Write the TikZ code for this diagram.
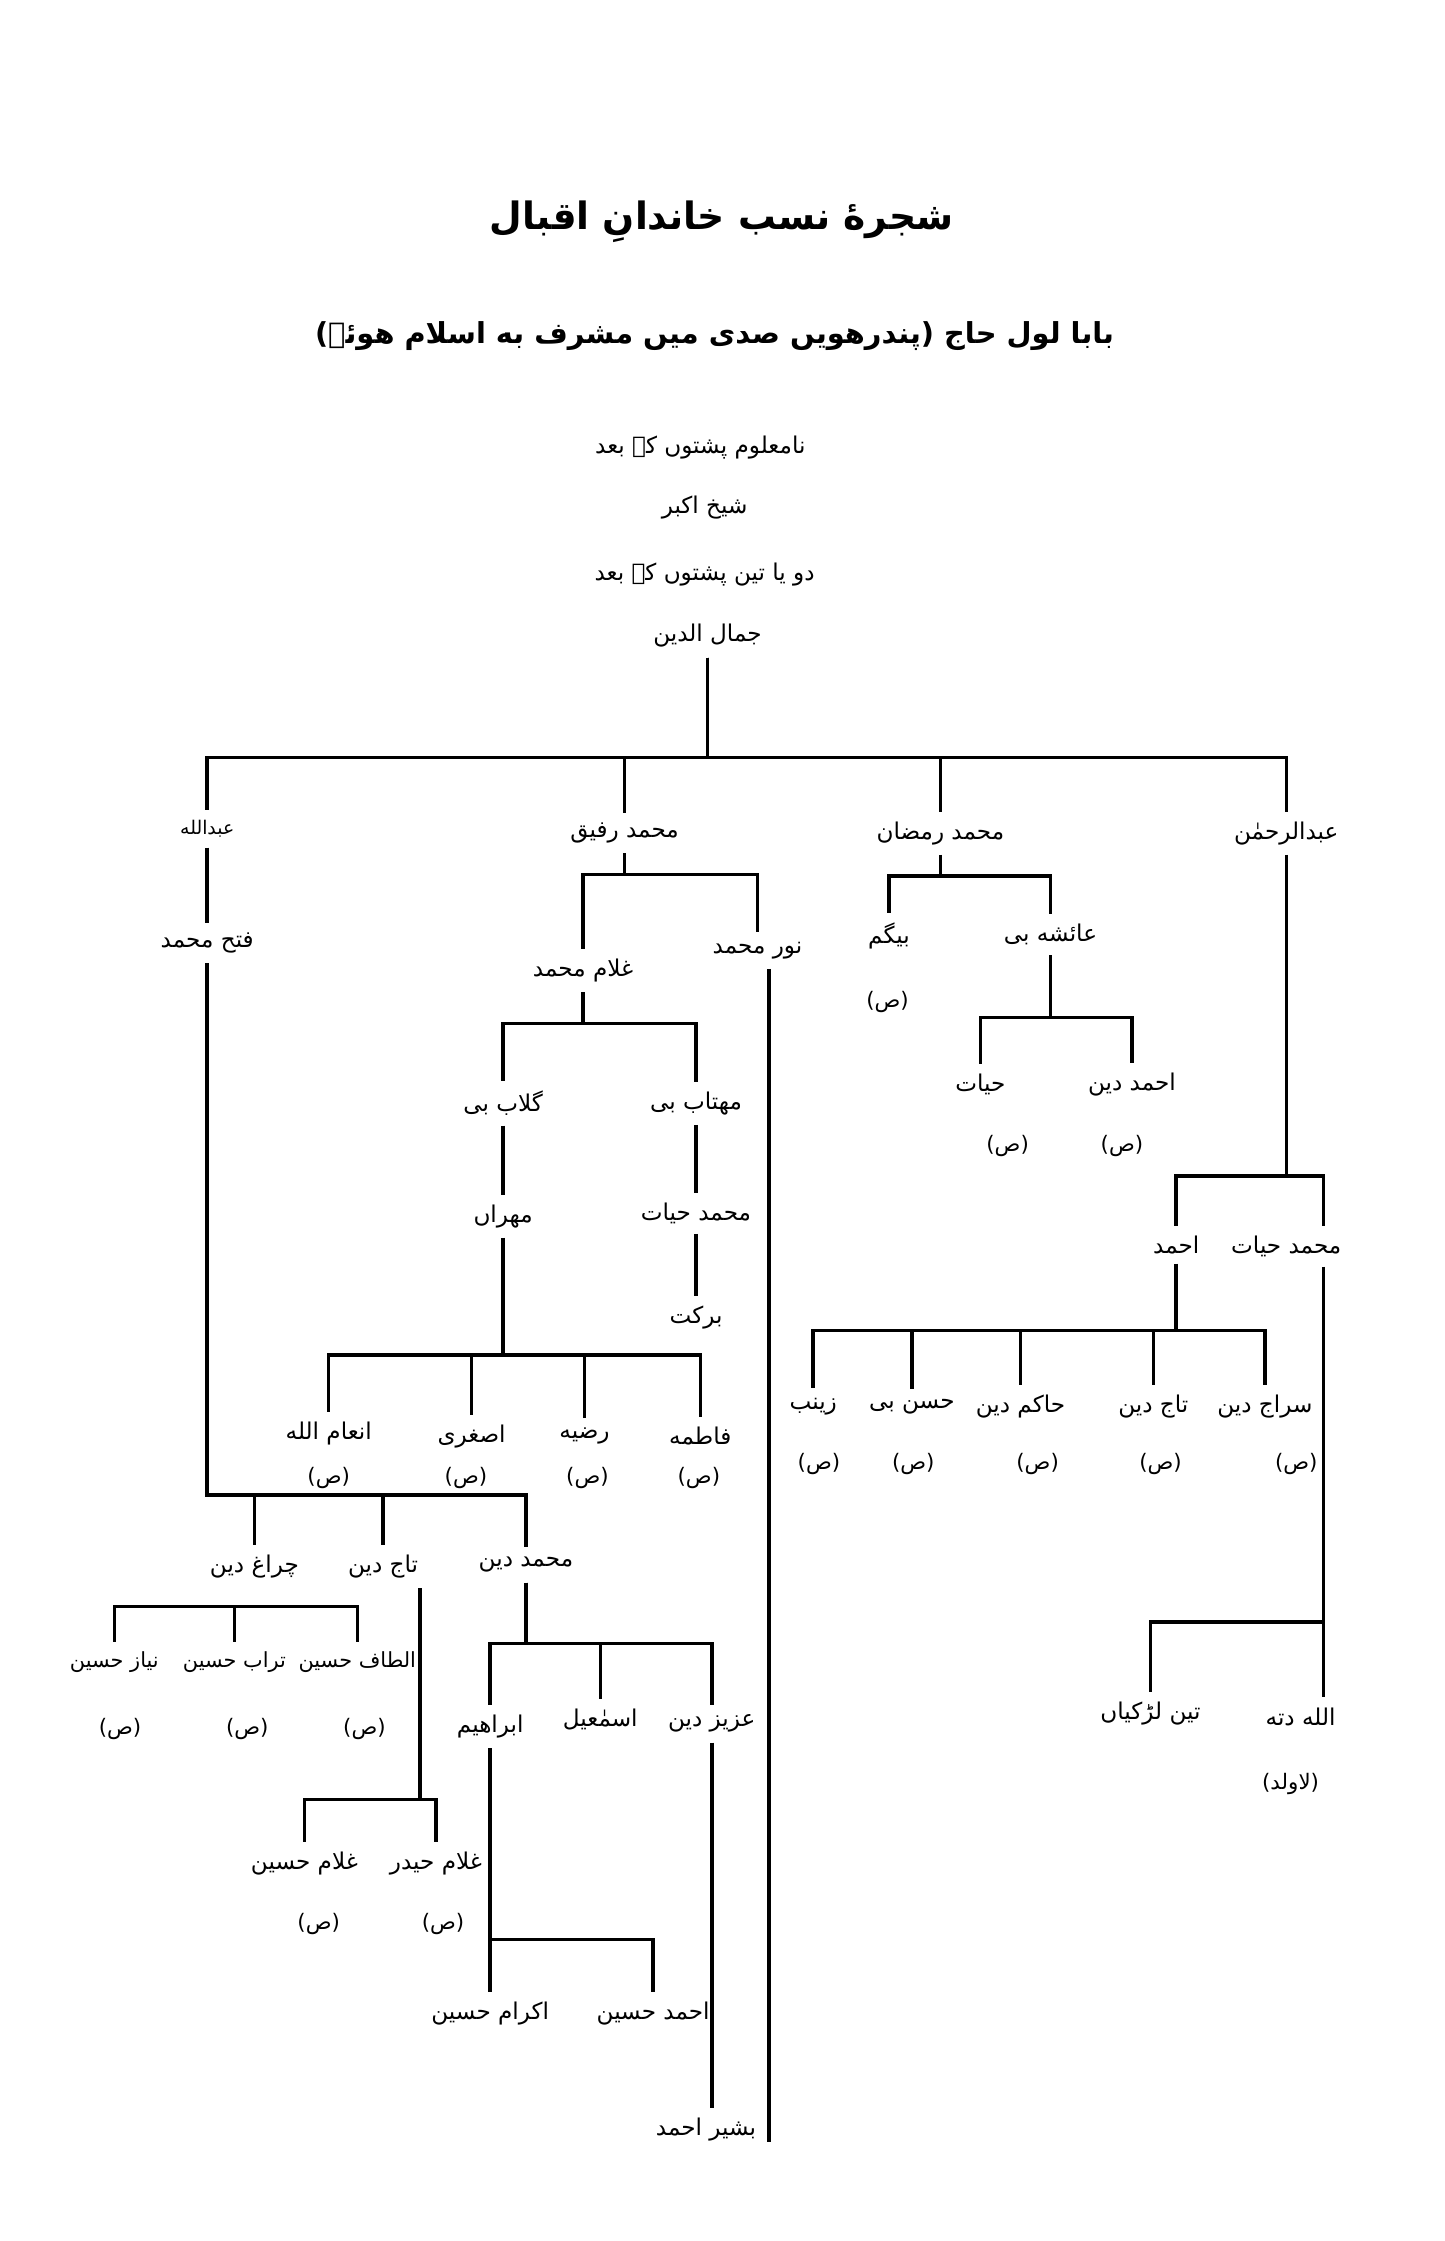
\documentclass[tikz,border=0pt]{standalone}
\usepackage{fontspec}
\newfontfamily\urdufont[Script=Arabic]{DejaVu Sans}
\TeXXeTstate=1
\usetikzlibrary{calc}
\newcommand{\ur}[1]{\beginR #1\endR}
\tikzset{
  person/.style={font=\urdufont\fontsize{9.2}{11}\selectfont, inner sep=1pt, outer sep=3pt},
  tight/.style={font=\urdufont\fontsize{8.3}{10}\selectfont, inner sep=1pt, outer sep=3pt},
  small/.style={font=\urdufont\fontsize{7.5}{9}\selectfont, inner sep=1pt, outer sep=3pt},
  sadnote/.style={font=\urdufont\fontsize{8.5}{10}\selectfont, inner sep=1pt},
  branch/.style={line width=1.4pt}
}
\begin{document}
\begin{tikzpicture}[x=0.02cm, y=-0.02cm]
  \fill [white] (0,0) rectangle (1011,1568);
  \useasboundingbox (0,0) rectangle (1011,1568);

  % heading
  \node (title) at (505,155) {\urdufont\bfseries\fontsize{15}{18}\selectfont\ur{شجرهٔ نسب خاندانِ اقبال}};
  \node (subtitle) at (500,235) {\urdufont\bfseries\fontsize{11.5}{14}\selectfont\ur{بابا لول حاج (پندرهویں صدی میں مشرف به اسلام هوئے)}};
  \node [person] (l1) at (490,313) {\ur{نامعلوم پشتوں کے بعد}};
  \node [person] (l2) at (493,355) {\ur{شیخ اکبر}};
  \node [person] (l3) at (493,402) {\ur{دو یا تین پشتوں کے بعد}};
  \node [person] (jamal) at (495,445) {\ur{جمال الدین}};

  % first generation
  \node [small] (abdullah) at (145,580) {\ur{عبدالله}};
  \node [person] (rafiq) at (437,583) {\ur{محمد رفیق}};
  \node [person] (ramzan) at (658,583) {\ur{محمد رمضان}};
  \node [person] (rahman) at (900,583) {\ur{عبدالرحمٰن}};

  \coordinate (b0) at (0,530);
  \draw [branch] (jamal) |- (abdullah |- b0) -- (abdullah);
  \draw [branch] (jamal) |- (rafiq |- b0) -- (rafiq);
  \draw [branch] (jamal) |- (ramzan |- b0) -- (ramzan);
  \draw [branch] (jamal) |- (rahman |- b0) -- (rahman);

  % Abdullah -- Fateh Muhammad
  \node [person] (fateh) at (145,660) {\ur{فتح محمد}};
  \draw [branch] (abdullah) -- (fateh);

  \node [person] (chiragh) at (178,1096) {\ur{چراغ دین}};
  \node [person] (tajdin) at (268,1096) {\ur{تاج دین}};
  \node [person] (mdin) at (368,1095) {\ur{محمد دین}};
  \coordinate (b1) at (0,1046);
  \draw [branch] (fateh) |- (chiragh |- b1) -- (chiragh);
  \draw [branch] (fateh) |- (tajdin |- b1) -- (tajdin);
  \draw [branch] (fateh) |- (mdin |- b1) -- (mdin);

  % Chiragh Din
  \node [tight] (niaz) at (80,1163) {\ur{نیاز حسین}};
  \node [tight] (turab) at (164,1163) {\ur{تراب حسین}};
  \node [tight] (altaf) at (250,1163) {\ur{الطاف حسین}};
  \node [sadnote] (niazS) at (84,1210) {\ur{(ص)}};
  \node [sadnote] (turabS) at (173,1210) {\ur{(ص)}};
  \node [sadnote] (altafS) at (255,1210) {\ur{(ص)}};
  \coordinate (b3) at (0,1124);
  \draw [branch] (niaz) |- (altaf |- b3) -- (altaf);
  \draw [branch] (turab) -- (turab |- b3);

  % Taj Din
  \node [person] (ghussain) at (213,1304) {\ur{غلام حسین}};
  \node [person] (ghaider) at (305,1304) {\ur{غلام حیدر}};
  \node [sadnote] (ghussainS) at (223,1346) {\ur{(ص)}};
  \node [sadnote] (ghaiderS) at (310,1346) {\ur{(ص)}};
  \coordinate (tx) at (294,0);
  \coordinate (b2) at (0,1259);
  \draw [branch] (tajdin.south -| tx) |- (ghussain |- b2) -- (ghussain);
  \draw [branch] (tajdin.south -| tx) |- (ghaider |- b2) -- (ghaider);

  % Muhammad Din
  \node [person] (ibrahim) at (343,1208) {\ur{ابراهیم}};
  \node [person] (ismail) at (420,1203) {\ur{اسمٰعیل}};
  \node [person] (aziz) at (498,1206) {\ur{عزیز دین}};
  \coordinate (b4) at (0,1150);
  \draw [branch] (mdin) |- (ibrahim |- b4) -- (ibrahim);
  \draw [branch] (mdin) |- (aziz |- b4) -- (aziz);
  \draw [branch] (ismail) -- (ismail |- b4);

  \node [person] (ikram) at (343,1409) {\ur{اکرام حسین}};
  \node [person] (ahmadh) at (457,1409) {\ur{احمد حسین}};
  \coordinate (b5) at (0,1357);
  \draw [branch] (ibrahim) -- (ikram);
  \draw [branch] (ibrahim) |- (ahmadh |- b5) -- (ahmadh);

  \node [person] (bashir) at (494,1490) {\ur{بشیر احمد}};
  \draw [branch] (aziz) -- (aziz |- bashir.north);

  % Muhammad Rafiq
  \node [person] (ghmd) at (408,679) {\ur{غلام محمد}};
  \node [person] (noor) at (530,665) {\ur{نور محمد}};
  \coordinate (b6) at (0,612);
  \draw [branch] (rafiq) |- (ghmd |- b6) -- (ghmd);
  \draw [branch] (rafiq) |- (noor |- b6) -- (noor);
  \coordinate (noorend) at (538,1499);
  \draw [branch] (noor.south -| noorend) -- (noorend);

  \node [person] (gulab) at (352,772) {\ur{گلاب بی}};
  \node [person] (mahtab) at (487,772) {\ur{مهتاب بی}};
  \coordinate (b7) at (0,716);
  \draw [branch] (ghmd) |- (gulab |- b7) -- (gulab);
  \draw [branch] (ghmd) |- (mahtab |- b7) -- (mahtab);

  \node [person] (mehran) at (352,851) {\ur{مهراں}};
  \node [person] (mhayat2) at (487,849) {\ur{محمد حیات}};
  \node [person] (barkat) at (487,922) {\ur{برکت}};
  \draw [branch] (gulab) -- (mehran);
  \draw [branch] (mahtab) -- (mhayat2);
  \draw [branch] (mhayat2) -- (barkat);

  % Mehran
  \node [person] (inam) at (230,1003) {\ur{انعام الله}};
  \node [person] (asghari) at (330,1005) {\ur{اصغری}};
  \node [person] (razia) at (409,1005) {\ur{رضیه}};
  \node [person] (fatima) at (490,1005) {\ur{فاطمه}};
  \node [sadnote] (inamS) at (230,1034) {\ur{(ص)}};
  \node [sadnote] (asghariS) at (326,1034) {\ur{(ص)}};
  \node [sadnote] (raziaS) at (411,1034) {\ur{(ص)}};
  \node [sadnote] (fatimaS) at (489,1034) {\ur{(ص)}};
  \coordinate (b8) at (0,948);
  \draw [branch] (mehran) |- (inam |- b8) -- (inam);
  \draw [branch] (mehran) |- (fatima |- b8) -- (fatima);
  \draw [branch] (asghari) -- (asghari |- b8);
  \draw [branch] (razia) -- (razia |- b8);

  % Muhammad Ramzan
  \node [person] (begum) at (622,655) {\ur{بیگم}};
  \node [person] (ayesha) at (735,654) {\ur{عائشه بی}};
  \node [sadnote] (begumS) at (621,701) {\ur{(ص)}};
  \coordinate (b9) at (0,613);
  \draw [branch] (ramzan) |- (begum |- b9) -- (begum);
  \draw [branch] (ramzan) |- (ayesha |- b9) -- (ayesha);

  \node [person] (hayat) at (686,759) {\ur{حیات}};
  \node [person] (ahmaddin) at (792,759) {\ur{احمد دین}};
  \node [sadnote] (hayatS) at (705,802) {\ur{(ص)}};
  \node [sadnote] (ahmaddinS) at (785,802) {\ur{(ص)}};
  \coordinate (b10) at (0,712);
  \draw [branch] (ayesha) |- (hayat |- b10) -- (hayat);
  \draw [branch] (ayesha) |- (ahmaddin |- b10) -- (ahmaddin);

  % Abdul Rahman
  \node [person] (ahmad) at (823,871) {\ur{احمد}};
  \node [person] (mhayat) at (900,872) {\ur{محمد حیات}};
  \coordinate (hx) at (926,0);
  \coordinate (b11) at (0,823);
  \draw [branch] (rahman) |- (ahmad |- b11) -- (ahmad);
  \draw [branch] (rahman) |- (hx |- b11) -- (mhayat.north -| hx);

  \node [person] (zainab) at (569,984) {\ur{زینب}};
  \node [person] (hasan) at (638,984) {\ur{حسن بی}};
  \node [person] (hakim) at (714,984) {\ur{حاکم دین}};
  \node [person] (tajdin2) at (807,984) {\ur{تاج دین}};
  \node [person] (siraj) at (885,984) {\ur{سراج دین}};
  \node [sadnote] (zainabS) at (573,1024) {\ur{(ص)}};
  \node [sadnote] (hasanS) at (639,1024) {\ur{(ص)}};
  \node [sadnote] (hakimS) at (726,1024) {\ur{(ص)}};
  \node [sadnote] (tajdin2S) at (812,1024) {\ur{(ص)}};
  \node [sadnote] (sirajS) at (907,1024) {\ur{(ص)}};
  \coordinate (b12) at (0,931);
  \draw [branch] (ahmad) |- (zainab |- b12) -- (zainab);
  \draw [branch] (ahmad) |- (siraj |- b12) -- (siraj);
  \draw [branch] (hasan) -- (hasan |- b12);
  \draw [branch] (hakim) -- (hakim |- b12);
  \draw [branch] (tajdin2) -- (tajdin2 |- b12);

  % Muhammad Hayat
  \node [person] (allahditta) at (910,1201) {\ur{الله دته}};
  \node [person] (teen) at (805,1199) {\ur{تین لڑکیاں}};
  \node [sadnote] (laulad) at (903,1248) {\ur{(لاولد)}};
  \coordinate (b13) at (0,1135);
  \draw [branch] (mhayat.south -| hx) -- (allahditta.north -| hx);
  \draw [branch] (mhayat.south -| hx) |- (teen |- b13) -- (teen);
\end{tikzpicture}
\end{document}
